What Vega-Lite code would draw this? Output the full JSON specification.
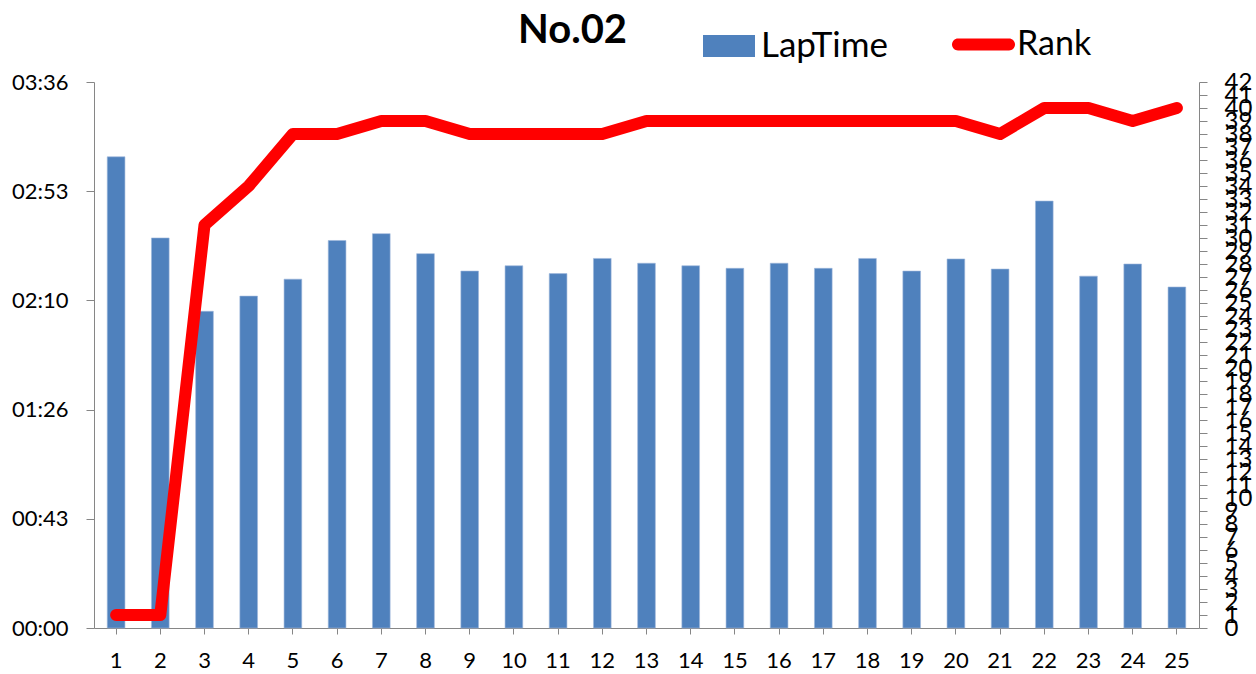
{
  "$schema": "https://vega.github.io/schema/vega-lite/v6.json",
  "width": 1105,
  "height": 546,
  "autosize": {"type": "none"},
  "padding": {"left": 94, "top": 82, "right": 57, "bottom": 46},
  "background": "white",
  "config": {
    "font": "Lato",
    "view": {"stroke": null},
    "legend": {"padding": 0}
  },
  "title": {
    "text": "No.02",
    "fontSize": 40,
    "fontWeight": "bold",
    "font": "Lato",
    "color": "#000000",
    "anchor": "middle",
    "frame": "group",
    "baseline": "alphabetic",
    "offset": 38,
    "dx": -74,
    "dy": 108
  },
  "data": {
    "values": [
      {"lap": 1, "lapTime": 186.4, "rank": 1},
      {"lap": 2, "lapTime": 154.3, "rank": 1},
      {"lap": 3, "lapTime": 125.3, "rank": 31},
      {"lap": 4, "lapTime": 131.3, "rank": 34},
      {"lap": 5, "lapTime": 138.0, "rank": 38},
      {"lap": 6, "lapTime": 153.3, "rank": 38},
      {"lap": 7, "lapTime": 156.0, "rank": 39},
      {"lap": 8, "lapTime": 148.1, "rank": 39},
      {"lap": 9, "lapTime": 141.2, "rank": 38},
      {"lap": 10, "lapTime": 143.3, "rank": 38},
      {"lap": 11, "lapTime": 140.2, "rank": 38},
      {"lap": 12, "lapTime": 146.2, "rank": 38},
      {"lap": 13, "lapTime": 144.3, "rank": 39},
      {"lap": 14, "lapTime": 143.3, "rank": 39},
      {"lap": 15, "lapTime": 142.3, "rank": 39},
      {"lap": 16, "lapTime": 144.3, "rank": 39},
      {"lap": 17, "lapTime": 142.3, "rank": 39},
      {"lap": 18, "lapTime": 146.2, "rank": 39},
      {"lap": 19, "lapTime": 141.2, "rank": 39},
      {"lap": 20, "lapTime": 146.0, "rank": 39},
      {"lap": 21, "lapTime": 142.0, "rank": 38},
      {"lap": 22, "lapTime": 168.9, "rank": 40},
      {"lap": 23, "lapTime": 139.2, "rank": 40},
      {"lap": 24, "lapTime": 144.0, "rank": 39},
      {"lap": 25, "lapTime": 134.9, "rank": 40}
    ]
  },
  "layer": [
    {
      "mark": {"type": "bar", "stroke": "#9DB7DC", "strokeWidth": 0.6},
      "encoding": {
        "x": {
          "field": "lap",
          "type": "ordinal",
          "sort": null,
          "scale": {"paddingInner": 0.6, "paddingOuter": 0.3},
          "axis": {
            "title": null,
            "labelAngle": 0,
            "labelFontSize": 22,
            "labelColor": "#000000",
            "labelPadding": 16,
            "tickSize": 6,
            "tickColor": "#868686",
            "domainColor": "#868686",
            "grid": false
          }
        },
        "y": {
          "field": "lapTime",
          "type": "quantitative",
          "scale": {"domain": [0, 216], "nice": false, "zero": true},
          "axis": {
            "title": null,
            "values": [0, 43.2, 86.4, 129.6, 172.8, 216],
            "labelExpr": "format(floor(round(datum.value)/60),'02d') + ':' + format(round(datum.value)%60,'02d')",
            "labelFontSize": 22,
            "labelColor": "#000000",
            "labelPadding": 18,
            "tickSize": 8,
            "tickColor": "#868686",
            "domainColor": "#868686",
            "labelFlush": false,
            "labelOverlap": false,
            "grid": false
          }
        },
        "fill": {
          "datum": "LapTime",
          "type": "nominal",
          "scale": {"range": ["#4F81BD"]},
          "legend": {
            "title": null,
            "orient": "none",
            "legendX": 609,
            "legendY": -62,
            "symbolType": "M-1,-0.42H1V0.42H-1Z",
            "symbolSize": 2704,
            "symbolStrokeWidth": 0,
            "labelFontSize": 35,
            "labelColor": "#000000",
            "labelOffset": 6
          }
        }
      }
    },
    {
      "mark": {"type": "line", "strokeWidth": 12, "strokeCap": "round", "strokeJoin": "round"},
      "encoding": {
        "x": {"field": "lap", "type": "ordinal", "sort": null},
        "y": {
          "field": "rank",
          "type": "quantitative",
          "scale": {"domain": [0, 42], "nice": false},
          "axis": {
            "orient": "right",
            "title": null,
            "values": [0,1,2,3,4,5,6,7,8,9,10,11,12,13,14,15,16,17,18,19,20,21,22,23,24,25,26,27,28,29,30,31,32,33,34,35,36,37,38,39,40,41,42],
            "labelFontSize": 24,
            "labelColor": "#000000",
            "labelPadding": 17,
            "tickSize": 8,
            "tickColor": "#868686",
            "domainColor": "#868686",
            "labelFlush": false,
            "labelOverlap": false,
            "grid": false
          }
        },
        "stroke": {
          "datum": "Rank",
          "type": "nominal",
          "scale": {"range": ["#FF0000"]},
          "legend": {
            "title": null,
            "orient": "none",
            "legendX": 858,
            "legendY": -69,
            "symbolType": "M-0.81,-0.19H0.81A0.19,0.19 0 0 1 0.81,0.19H-0.81A0.19,0.19 0 0 1 -0.81,-0.19Z",
            "symbolSize": 3969,
            "symbolFillColor": "#FF0000",
            "symbolStrokeWidth": 0,
            "labelFontSize": 34,
            "labelColor": "#000000",
            "labelOffset": 2
          }
        }
      }
    }
  ],
  "resolve": {"scale": {"y": "independent", "fill": "independent", "stroke": "independent"}}
}
